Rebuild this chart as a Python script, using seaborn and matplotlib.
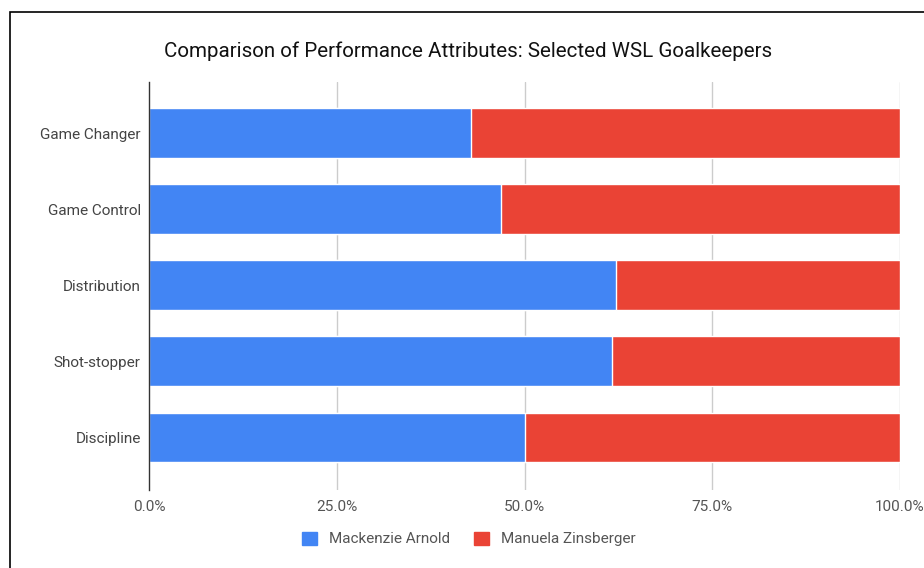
import matplotlib
matplotlib.use("Agg")
import matplotlib.pyplot as plt
from matplotlib.patches import Patch, Rectangle
import pandas as pd
import seaborn as sns

# Data (share of each attribute, %)
attributes = ["Game Changer", "Game Control", "Distribution", "Shot-stopper", "Discipline"]
arnold = [42.9, 46.9, 62.2, 61.7, 50.0]
zinsberger = [57.1, 53.1, 37.8, 38.3, 50.0]
players = ["Mackenzie Arnold", "Manuela Zinsberger"]
tick_labels = ["0.0%", "25.0%", "50.0%", "75.0%", "100.0%"]

blue = "#4285F4"
red = "#EA4335"

df = pd.DataFrame({"attribute": attributes, "arnold": arnold, "zinsberger": zinsberger})
df["total"] = df["arnold"] + df["zinsberger"]

sns.set_theme(style="white")
plt.rcParams["font.family"] = ["Roboto", "DejaVu Sans"]

fig = plt.figure(figsize=(9.24, 5.68), dpi=100)
ax = fig.add_axes([149 / 924, 1 - 490 / 568, 751 / 924, 408 / 568])

# stacked bars: full length in red, Arnold's share in blue on top
sns.barplot(data=df, x="total", y="attribute", color=red, width=0.655,
            saturation=1, ax=ax, zorder=2)
sns.barplot(data=df, x="arnold", y="attribute", color=blue, width=0.655,
            saturation=1, ax=ax, zorder=3)

ax.set_xlim(0, 100)
ax.set_ylim(4.69, -0.67)
ax.set_xticks([0, 25, 50, 75, 100])
ax.set_xticklabels(tick_labels)
ax.set_xlabel("")
ax.set_ylabel("")

for v in [25, 50, 75, 100]:
    ax.axvline(v, color="#cccccc", lw=1, zorder=1)

for s in ["top", "right", "bottom"]:
    ax.spines[s].set_visible(False)
ax.spines["left"].set_color("#333333")
ax.spines["left"].set_linewidth(1)
ax.spines["left"].set_zorder(4)

ax.tick_params(axis="x", length=0, pad=7, labelsize=11, labelcolor="#555555")
ax.tick_params(axis="y", length=0, pad=6, labelsize=11, labelcolor="#444444")

fig.text(468 / 924, 1 - 51 / 568, "Comparison of Performance Attributes: Selected WSL Goalkeepers",
         ha="center", va="center", fontsize=14.8, color="#111111")

handles = [Patch(facecolor=blue, edgecolor=blue), Patch(facecolor=red, edgecolor=red)]
fig.legend(handles, players, loc="center", bbox_to_anchor=(469 / 924, 1 - 539 / 568),
           ncol=2, frameon=False, fontsize=11, labelcolor="#555555",
           handlelength=0.95, handleheight=0.95, handletextpad=0.8, columnspacing=1.6)

# outer frame
fig.patches.append(Rectangle((9.5 / 924, -0.1), 1.2, 1.1 - 12.5 / 568,
                             transform=fig.transFigure, fill=False,
                             edgecolor="black", lw=1.2))

fig.savefig("out.png", dpi=100)
